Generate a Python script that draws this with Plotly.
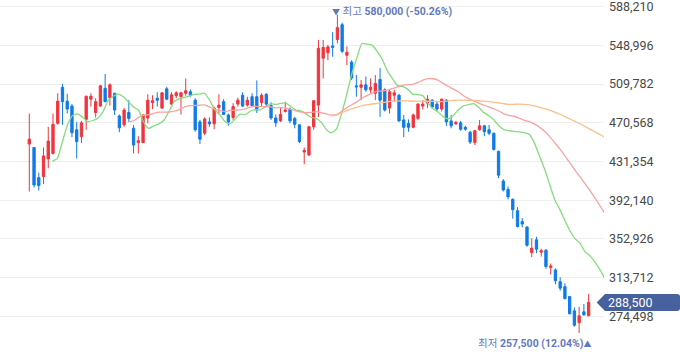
import plotly.graph_objects as go
import pandas as pd

# ---- data (KRW) ----
opens = [449000,445500,415000,416000,434000,439500,470000,506500,492500,487500,
         463500,456500,474000,494500,481000,487500,505500,496000,500500,477500,
         468500,481000,465000,450500,450500,475500,491000,495500,485500,505000,
         489500,498000,497000,500500,502000,493500,471500,460000,471500,469500,
         486000,492000,478500,476000,489500,498500,488500,497000,497000,491000,
         499500,488000,475500,472500,482000,484500,475000,468500,441000,438000,
         466500,488500,536000,541500,548500,555000,570000,539000,532000,508000,
         506500,509000,504000,500500,514500,504000,485500,498500,498500,473500,
         470000,466000,475000,487500,490500,493500,489500,484500,493500,472500,
         469500,470500,466000,461000,450500,463500,467500,463500,460000,441500,
         411500,403000,393000,381500,370500,365000,339000,352000,339500,341500,
         324000,321500,309500,304500,294500,280000,268000,279000,275000]
highs = [480000,446000,420000,445500,466500,480000,500500,510000,500000,489500,
         471500,472500,498000,500500,495500,509000,520000,510500,501000,479000,
         485500,493500,468500,457000,479000,499500,498500,501500,501500,507000,
         501500,502500,502000,515500,504500,495500,473500,476000,476000,487000,
         499500,494500,480000,490500,496000,501500,497000,500500,513500,500500,
         500500,491500,479000,485500,492000,486000,476500,469000,445500,467500,
         493500,554500,554500,549500,562500,580000,572000,548000,534000,519000,
         514000,517500,515500,519000,526000,505500,504000,504000,500000,478500,
         474000,480000,490500,493500,498500,494500,492000,495000,494500,478500,
         472500,472500,467500,462500,463500,473500,468500,468500,460500,442500,
         413500,406000,394000,385000,374000,365500,353500,355000,343000,342500,
         328000,323000,314000,308000,295000,283500,284000,287000,297000]
lows = [401000,405000,402000,408500,424500,438500,468500,468500,480000,456000,
        434500,450000,463500,487000,476000,487000,491500,488000,478500,461000,
        466500,471500,439500,439500,450000,470000,484500,487000,484500,493500,
        488500,495500,479000,498000,497000,461500,449000,458000,466500,464000,
        480000,478500,467500,473500,487000,486500,487000,487000,480500,487000,
        487000,473500,466500,471500,481000,470000,465000,450000,428500,437000,
        463500,476500,515500,534000,537500,551000,541000,529000,514000,497000,
        493500,502000,501000,493500,476500,482000,480000,492000,471500,456000,
        461500,465000,473500,484000,485500,484500,482000,482000,467500,465000,
        468500,462500,462500,449000,448000,462500,457000,458000,442500,414500,
        401000,393000,373500,364500,364500,345000,334500,338500,335000,322500,
        317000,307000,300500,291500,276500,264000,257500,275000,274500]
closes = [454000,407500,407000,437000,452000,469000,492500,492000,484500,460500,
          451500,470500,497500,497500,492000,508000,492000,509000,483500,465500,
          483500,475000,448000,452500,478500,493500,493000,493500,501000,494500,
          499000,501000,501000,503000,498500,463500,454000,474500,469500,485500,
          488500,479000,471500,487000,493500,487500,493500,488000,483500,498500,
          489500,475500,470500,479000,483500,472500,469000,451500,442500,466500,
          493000,546000,547000,547500,547000,567000,543000,542000,516000,507000,
          509000,504000,506500,510500,493500,483500,502000,501000,472500,466000,
          466000,478500,489500,489500,494500,486500,484500,494500,471500,467500,
          471000,464000,464000,451000,462500,467500,461500,460000,443500,417500,
          402500,395500,382500,365500,368000,346500,343500,342500,341000,325000,
          325500,310500,303000,292500,277000,265500,275000,276000,288500]

ma_windows = [5, 20, 60]
ma_colors = ["#86dc7e", "#f8a3a3", "#f9c08c"]

y_ticks = [274498, 313712, 352926, 392140, 431354, 470568, 509782, 548996, 588210]
y_tick_text = [f"{v:,}" for v in y_ticks]

max_label = "<span style='font-size:8px'>▼</span> 최고 <b>580,000 (-50.26%)</b>"
min_label = "최저 <b>257,500 (12.04%)</b><span style='font-size:8px'>▲</span>"

# ---- figure ----
W, H = 680, 358
ML, MR = 0, 76
plot_w = W - ML - MR
y_range = [232238, 595000]

idx = list(range(len(closes)))
fig = go.Figure()

fig.add_trace(go.Candlestick(
    x=idx, open=opens, high=highs, low=lows, close=closes,
    increasing=dict(line=dict(color="#f0353d", width=1), fillcolor="#f0353d"),
    decreasing=dict(line=dict(color="#0f7ae8", width=1), fillcolor="#0f7ae8"),
    whiskerwidth=0, showlegend=False, hoverinfo="skip",
))

cs = pd.Series(closes, dtype=float)
for w, col in zip(ma_windows, ma_colors):
    ma = cs.rolling(w).mean()
    fig.add_trace(go.Scatter(
        x=idx, y=ma, mode="lines", xaxis="x2",
        line=dict(color=col, width=1.3, shape="spline", smoothing=0.5),
        showlegend=False, hoverinfo="skip",
    ))

font_family = "Roboto, Noto Sans, sans-serif"
ann_family = "Roboto, Noto Sans CJK KR, sans-serif"

fig.update_layout(
    width=W, height=H,
    margin=dict(l=ML, r=MR, t=0, b=0, autoexpand=False),
    paper_bgcolor="white", plot_bgcolor="white",
    font=dict(family=font_family, size=13, color="#444"),
    xaxis=dict(range=[-29.3 / 4.74, (plot_w - 29.3) / 4.74], visible=False,
               rangeslider=dict(visible=False), fixedrange=True),
    xaxis2=dict(range=[-32 / 5.075, (plot_w - 32) / 5.075], overlaying="x",
                visible=False, fixedrange=True),
    yaxis=dict(range=y_range, side="right", tickvals=y_ticks, ticktext=y_tick_text,
               showgrid=True, gridcolor="#efefef", gridwidth=1, zeroline=False,
               showline=False, ticks="", ticklabelstandoff=4,
               ticklabeloverflow="allow",
               tickfont=dict(size=12.5, color="#484848", family=font_family)),
    hovermode=False,
)

imax = highs.index(max(highs))
imin = lows.index(min(lows))
fig.add_annotation(x=imax, y=max(highs), xref="x", yref="y", text=max_label,
                   showarrow=False, xanchor="left", yanchor="bottom", xshift=-7, yshift=-5,
                   font=dict(size=10.5, color="#6479bd", family=ann_family))
fig.add_annotation(x=imin, y=min(lows), xref="x", yref="y", text=min_label,
                   showarrow=False, xanchor="right", yanchor="top", xshift=15, yshift=-2,
                   font=dict(size=10.5, color="#6479bd", family=ann_family))

# current price tag
last = closes[-1]
yp = (last - y_range[0]) / (y_range[1] - y_range[0])
hh = 8.5 / H
px = lambda v: v / plot_w
tip, x0, x1 = px(596.7), px(605), px(W)
r = px(3)
path = (f"M {tip},{yp} L {x0},{yp + hh} L {x1 - r},{yp + hh} "
        f"Q {x1},{yp + hh} {x1},{yp + hh - 3 / H} L {x1},{yp - hh + 3 / H} "
        f"Q {x1},{yp - hh} {x1 - r},{yp - hh} L {x0},{yp - hh} Z")
fig.add_shape(type="path", path=path, xref="paper", yref="paper",
              fillcolor="#47609e", line=dict(width=0), layer="above")
fig.add_annotation(x=px(606), y=yp, xref="paper", yref="paper", text=f"{last:,}",
                   showarrow=False, xanchor="left", yanchor="middle",
                   font=dict(size=12.5, color="white", family=font_family))

fig.write_html("out.html", config={"displayModeBar": False},
               post_script="document.body.style.margin='0';document.body.style.overflow='hidden';")
